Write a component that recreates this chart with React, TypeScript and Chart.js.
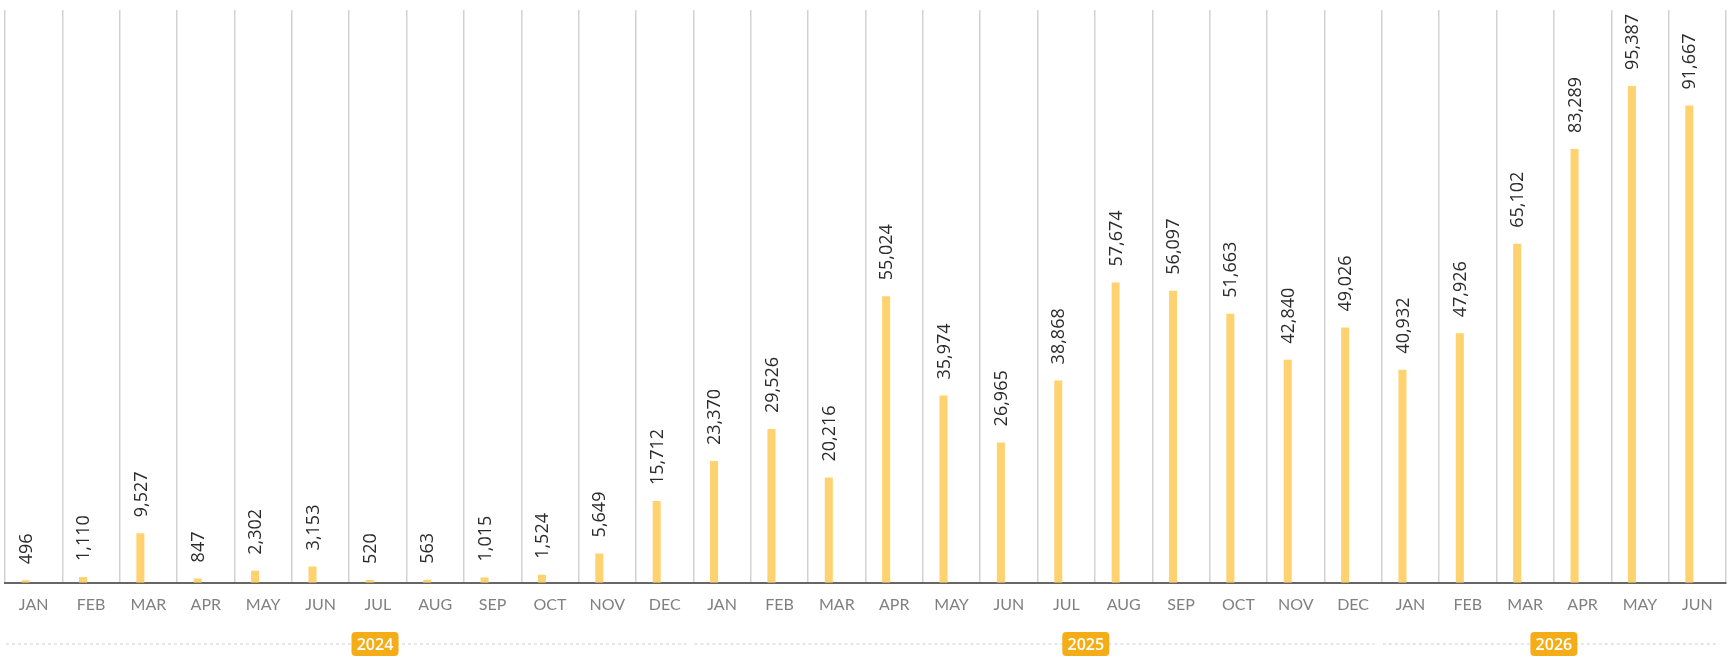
import React, { useEffect, useRef } from "react";
import { Chart, registerables } from "chart.js";

Chart.register(...registerables);

const months = ["JAN", "FEB", "MAR", "APR", "MAY", "JUN", "JUL", "AUG", "SEP", "OCT", "NOV", "DEC"];

const categories = [...months, ...months, ...months.slice(0, 6)];

const values2024 = [496, 1110, 9527, 847, 2302, 3153, 520, 563, 1015, 1524, 5649, 15712];
const values2025 = [23370, 29526, 20216, 55024, 35974, 26965, 38868, 57674, 56097, 51663, 42840, 49026];
const values2026 = [40932, 47926, 65102, 83289, 95387, 91667];

const counts = [...values2024, ...values2025, ...values2026];

// year bands: first and last category index, and where the badge sits
const years = ["2024", "2025", "2026"];
const yearStart = [0, 12, 24];
const yearEnd = [11, 23, 29];
const yearBadgeAt = [5.95, 18.34, 26.5];

const valueLabels = {
	id: "valueLabels",
	afterDatasetsDraw(chart: Chart) {
		const ctx = chart.ctx;
		const meta = chart.getDatasetMeta(0);
		ctx.save();
		ctx.font = '18px "Open Sans", sans-serif';
		ctx.fillStyle = "#2b2b2b";
		ctx.textAlign = "left";
		ctx.textBaseline = "middle";
		meta.data.forEach((bar: any, i: number) => {
			ctx.save();
			ctx.translate(bar.x + 1, bar.y - 16);
			ctx.rotate(-Math.PI / 2);
			ctx.fillText(counts[i].toLocaleString("en-US"), 0, 0);
			ctx.restore();
		});
		ctx.restore();
	},
};

const yearAxis = {
	id: "yearAxis",
	afterDraw(chart: Chart) {
		const ctx = chart.ctx;
		const x = chart.scales.x;
		const half = (x.getPixelForValue(1) - x.getPixelForValue(0)) / 2;
		const y = 644;
		ctx.save();
		ctx.strokeStyle = "#cccccc";
		ctx.lineWidth = 1;
		ctx.setLineDash([3, 3]);
		years.forEach((_, i) => {
			const from = x.getPixelForValue(yearStart[i]) - half + 1;
			const to = x.getPixelForValue(yearEnd[i]) + half - 7;
			ctx.beginPath();
			ctx.moveTo(from, y);
			ctx.lineTo(to, y);
			ctx.stroke();
		});
		ctx.setLineDash([]);
		ctx.font = '600 16px "Open Sans", sans-serif';
		ctx.textAlign = "center";
		ctx.textBaseline = "middle";
		years.forEach((label, i) => {
			const cx = x.getPixelForValue(yearBadgeAt[i]);
			const w = 47;
			const h = 24;
			ctx.fillStyle = "#f5ad17";
			ctx.beginPath();
			ctx.roundRect(cx - w / 2, y - h / 2, w, h, 4);
			ctx.fill();
			ctx.fillStyle = "#ffffff";
			ctx.fillText(label, cx, y + 1);
		});
		ctx.restore();
	},
};

const MonthlyBars: React.FC = () => {
	const chartRef = useRef<HTMLCanvasElement>(null);
	const chartInstanceRef = useRef<Chart>();

	useEffect(() => {
		document.body.style.margin = "0";
		if (chartRef.current) {
			if (chartInstanceRef.current) {
				chartInstanceRef.current.destroy();
			}

			chartInstanceRef.current = new Chart(chartRef.current, {
				type: "bar",
				data: {
					labels: categories,
					datasets: [
						{
							data: counts,
							backgroundColor: "#ffd270",
							categoryPercentage: 0.56,
							barPercentage: 0.5,
						},
						{
							// empty second slot, pushes the bars left of the tick centre
							data: categories.map(() => null),
							backgroundColor: "transparent",
							categoryPercentage: 0.56,
							barPercentage: 0.5,
						},
					],
				},
				options: {
					animation: false,
					responsive: true,
					maintainAspectRatio: false,
					layout: {
						padding: { top: 10, left: 5, right: 2, bottom: 42 },
					},
					plugins: {
						legend: { display: false },
						tooltip: { enabled: false },
					},
					scales: {
						x: {
							grid: {
								offset: true,
								color: "#d2d2d2",
								lineWidth: 1.5,
								drawTicks: false,
							},
							border: { color: "#666666", width: 2 },
							ticks: {
								color: "#808080",
								padding: 12,
								font: { family: "Lato", size: 16 },
								maxRotation: 0,
								autoSkip: false,
							},
						},
						y: {
							display: false,
							min: 0,
							max: 110000,
						},
					},
				},
				plugins: [valueLabels, yearAxis],
			});
		}

		return () => {
			if (chartInstanceRef.current) {
				chartInstanceRef.current.destroy();
			}
		};
	}, []);

	return (
		<div style={{ width: "1728px", height: "668px", position: "relative", backgroundColor: "white" }}>
			<canvas ref={chartRef} />
		</div>
	);
};

export default function App() {
	return <MonthlyBars />;
}
